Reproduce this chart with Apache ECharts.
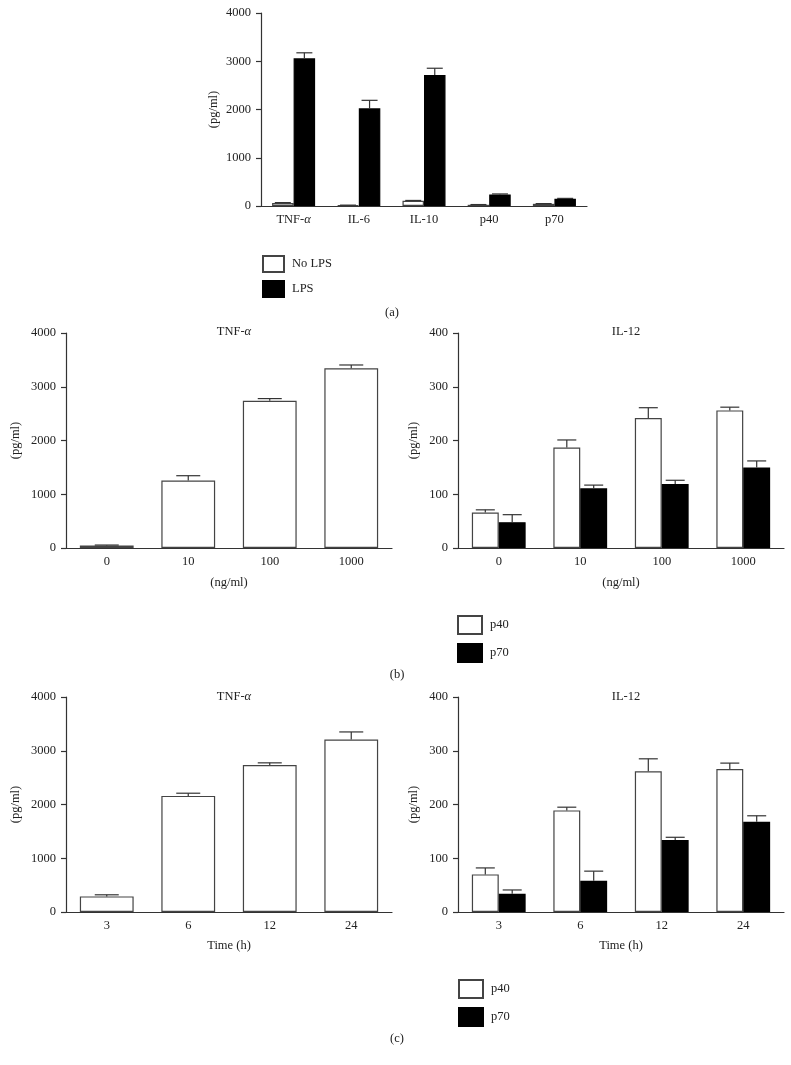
<!DOCTYPE html>
<html><head><meta charset="utf-8">
<script src="https://cdn.jsdelivr.net/npm/echarts@6/dist/echarts.min.js"></script>
<style>html,body{margin:0;padding:0;background:#fff}#c{width:791px;height:1065px}</style>
</head><body><div id="c"></div>
<script>
// ---------- data ----------
const catsA = ['TNF-α', 'IL-6', 'IL-10', 'p40', 'p70'];
const aNoLPS = [60, 15, 110, 25, 45];
const aNoLPSErr = [10, 3, 5, 5, 5];
const aLPS = [3060, 2025, 2715, 240, 150];
const aLPSErr = [115, 165, 140, 10, 8];

const doses = ['0', '10', '100', '1000'];
const bTNF = [45, 1255, 2740, 3345];
const bTNFErr = [10, 90, 40, 60];
const bP40 = [66, 187, 242, 256];
const bP40Err = [5, 14, 19, 6];
const bP70 = [48, 111, 119, 150];
const bP70Err = [14, 6, 7, 12];

const times = ['3', '6', '12', '24'];
const cTNF = [290, 2160, 2735, 3210];
const cTNFErr = [30, 50, 40, 140];
const cP40 = [70, 189, 262, 266];
const cP40Err = [12, 6, 23, 11];
const cP70 = [34, 58, 134, 168];
const cP70Err = [7, 18, 5, 11];

const yTicksBig = [0, 4000, 1000];
const yTicksSmall = [0, 400, 100];

// ---------- styles ----------
const FONT = '"Liberation Serif", "DejaVu Serif", serif';
const FS = 12.5;
const TXT = '#222';
const AX = '#333';
const EDGE = '#444';
const LW = 1.2;

function fmtCat(v) {
  if (v.indexOf('α') >= 0) return v.replace('α', '') + '{i|α}';
  return v;
}
const richI = { i: { fontFamily: FONT, fontStyle: 'italic', fontSize: FS, color: TXT } };

function xAxis(gi, cats, name, nameGap) {
  return {
    type: 'category', gridIndex: gi, data: cats,
    axisLine: { lineStyle: { color: AX, width: LW } },
    axisTick: { show: false },
    axisLabel: { interval: 0, color: TXT, fontFamily: FONT, fontSize: FS, margin: 7, formatter: fmtCat, rich: richI },
    name: name || '', nameLocation: 'middle', nameGap: nameGap || 30,
    nameTextStyle: { color: TXT, fontFamily: FONT, fontSize: FS }
  };
}
function yAxis(gi, ticks, nameGap) {
  return {
    type: 'value', gridIndex: gi, min: ticks[0], max: ticks[1], interval: ticks[2],
    splitLine: { show: false },
    axisLine: { show: true, lineStyle: { color: AX, width: LW } },
    axisTick: { show: true, length: 5, lineStyle: { color: AX, width: LW } },
    axisLabel: { color: TXT, fontFamily: FONT, fontSize: FS, margin: 10, formatter: v => String(v) },
    name: '(pg/ml)', nameLocation: 'middle', nameGap: nameGap, nameRotate: 90,
    nameTextStyle: { color: TXT, fontFamily: FONT, fontSize: FS }
  };
}
function bar(name, idx, vals, white, width) {
  return {
    type: 'bar', name: name, xAxisIndex: idx, yAxisIndex: idx, data: vals,
    barWidth: width, barGap: '0%', z: 2,
    itemStyle: white ? { color: '#fff', borderColor: EDGE, borderWidth: LW }
                     : { color: '#000', borderColor: '#000', borderWidth: LW },
    emphasis: { disabled: true }, animation: false
  };
}
function err(idx, vals, errs, frac, cap) {
  return {
    type: 'custom', xAxisIndex: idx, yAxisIndex: idx, z: 3, animation: false, silent: true,
    data: vals.map((v, i) => [i, v, errs[i]]),
    renderItem: function (params, api) {
      const i = api.value(0), v = api.value(1), e = api.value(2);
      const p0 = api.coord([i, v]);
      const p1 = api.coord([i, v + e]);
      const bw = api.size([1, 0])[0];
      const x = p0[0] + frac * bw;
      const st = { stroke: AX, lineWidth: LW, fill: null };
      return { type: 'group', children: [
        { type: 'line', shape: { x1: x, y1: p0[1], x2: x, y2: p1[1] }, style: st },
        { type: 'line', shape: { x1: x - cap / 2, y1: p1[1], x2: x + cap / 2, y2: p1[1] }, style: st }
      ]};
    }
  };
}
function ptitle(text, cx, top) {
  return { text: fmtCat(text), left: cx, top: top, textAlign: 'center',
    textStyle: { color: TXT, fontFamily: FONT, fontSize: FS, fontWeight: 'normal', rich: richI } };
}
function legend(names, left, top, w, h, gap) {
  return { data: names, orient: 'vertical', left: left, top: top, itemWidth: w, itemHeight: h, itemGap: gap,
    icon: 'rect', selectedMode: false,
    textStyle: { color: TXT, fontFamily: FONT, fontSize: FS, padding: [0, 0, 0, 3] } };
}

const grids = [
  { left: 261, top: 13, width: 326, height: 193 },
  { left: 66, top: 333, width: 326, height: 215 },
  { left: 458, top: 333, width: 326, height: 215 },
  { left: 66, top: 697, width: 326, height: 215 },
  { left: 458, top: 697, width: 326, height: 215 }
];

const option = {
  backgroundColor: '#fff',
  animation: false,
  grid: grids,
  title: [
    ptitle('TNF-α', 229, 320),
    ptitle('IL-12', 621, 320),
    ptitle('TNF-α', 229, 685),
    ptitle('IL-12', 621, 685),
    { text: '(a)', left: 387, top: 301, textAlign: 'center', textStyle: { color: TXT, fontFamily: FONT, fontSize: FS, fontWeight: 'normal' } },
    { text: '(b)', left: 392, top: 663, textAlign: 'center', textStyle: { color: TXT, fontFamily: FONT, fontSize: FS, fontWeight: 'normal' } },
    { text: '(c)', left: 392, top: 1027, textAlign: 'center', textStyle: { color: TXT, fontFamily: FONT, fontSize: FS, fontWeight: 'normal' } }
  ],
  legend: [
    legend(['No LPS', 'LPS'], 257, 250, 21, 16, 7),
    legend(['p40', 'p70'], 452, 610, 24, 18, 8),
    legend(['p40 ', 'p70 '], 453, 974, 24, 18, 8)
  ],
  xAxis: [
    xAxis(0, catsA),
    xAxis(1, doses, '(ng/ml)', 28),
    xAxis(2, doses, '(ng/ml)', 28),
    xAxis(3, times, 'Time (h)', 27),
    xAxis(4, times, 'Time (h)', 27)
  ],
  yAxis: [
    yAxis(0, yTicksBig, 41),
    yAxis(1, yTicksBig, 44),
    yAxis(2, yTicksSmall, 38),
    yAxis(3, yTicksBig, 44),
    yAxis(4, yTicksSmall, 38)
  ],
  series: [
    bar('No LPS', 0, aNoLPS, true, '33%'),
    bar('LPS', 0, aLPS, false, '33%'),
    err(0, aNoLPS, aNoLPSErr, -0.165, 16),
    err(0, aLPS, aLPSErr, 0.165, 16),

    bar('TNF b', 1, bTNF, true, '66%'),
    err(1, bTNF, bTNFErr, 0, 24),
    bar('p40', 2, bP40, true, '33%'),
    bar('p70', 2, bP70, false, '33%'),
    err(2, bP40, bP40Err, -0.165, 19),
    err(2, bP70, bP70Err, 0.165, 19),

    bar('TNF c', 3, cTNF, true, '66%'),
    err(3, cTNF, cTNFErr, 0, 24),
    bar('p40 ', 4, cP40, true, '33%'),
    bar('p70 ', 4, cP70, false, '33%'),
    err(4, cP40, cP40Err, -0.165, 19),
    err(4, cP70, cP70Err, 0.165, 19)
  ]
};
const chart = echarts.init(document.getElementById('c'), null, { renderer: 'canvas' });
chart.setOption(option);
</script>
</body></html>
